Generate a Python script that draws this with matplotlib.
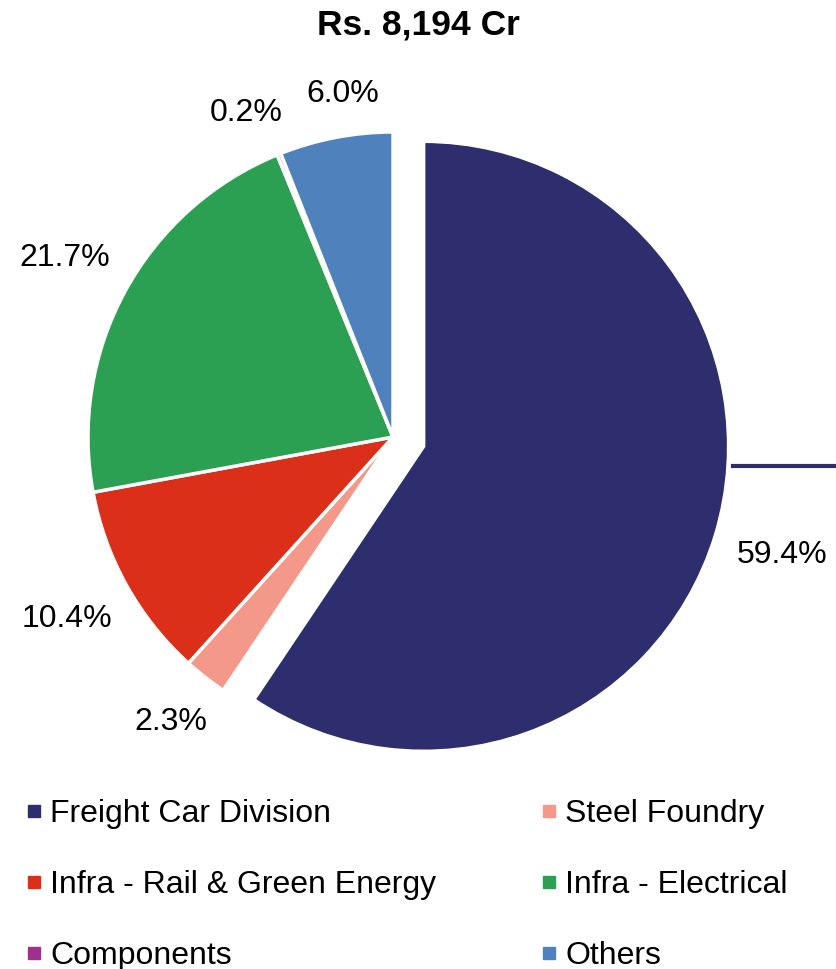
import numpy as np
import matplotlib
matplotlib.use("Agg")
import matplotlib.pyplot as plt
from matplotlib.lines import Line2D

plt.rcParams['font.family'] = ['Liberation Sans', 'DejaVu Sans']

# data
segments = ["Freight Car Division", "Steel Foundry", "Infra - Rail & Green Energy",
            "Infra - Electrical", "Components", "Others"]
shares = [59.4, 2.3, 10.4, 21.7, 0.2, 6.0]
colors = ["#2E2D6E", "#F4998A", "#DC2F19", "#2CA052", "#A0308F", "#4F81BD"]
explode_frac = [0.105, 0, 0, 0, 0, 0]
title = "Rs. 8,194 Cr"

W, H = 836, 969
fig = plt.figure(figsize=(W / 100, H / 100), dpi=100)
ax = fig.add_axes([0, 0, 1, 1])

cx, cy, R = 393, H - 437, 305

wedges, _, autotexts = ax.pie(
    shares, colors=colors, explode=[e * R for e in explode_frac],
    startangle=90, counterclock=False, center=(cx, cy), radius=R,
    autopct=lambda p: f"{p:.1f}%", pctdistance=1.2,
    wedgeprops=dict(edgecolor='white', linewidth=2.5), frame=True,
)
ax.set_xlim(0, W)
ax.set_ylim(0, H)
ax.axis('off')

# place labels just outside the rim ("outside end"), spreading overlapping ones
for t in autotexts:
    t.set_fontsize(23)
    t.set_color('black')
fig.canvas.draw()
renderer = fig.canvas.get_renderer()
gap = 22
sizes = [(t.get_window_extent(renderer).width, t.get_window_extent(renderer).height)
         for t in autotexts]
angles = [(w.theta1 + w.theta2) / 2 for w in wedges]


def label_pos(i):
    ang = np.deg2rad(angles[i])
    w, h = sizes[i]
    r = R + gap + abs(np.cos(ang)) * w / 2 + abs(np.sin(ang)) * h / 2
    wx, wy = wedges[i].center
    return wx + r * np.cos(ang), wy + r * np.sin(ang)


def overlap(i, j, pad=24):
    (xi, yi), (xj, yj) = label_pos(i), label_pos(j)
    return (abs(xi - xj) < (sizes[i][0] + sizes[j][0]) / 2 + pad and
            abs(yi - yj) < (sizes[i][1] + sizes[j][1]) / 2 + pad)


n = len(wedges)
for _ in range(200):
    moved = False
    for i in range(n):
        j = (i + 1) % n
        if overlap(i, j):
            # wedges run clockwise, so i sits at a larger angle than j
            angles[i] += 0.5
            angles[j] -= 0.5
            moved = True
    if not moved:
        break

for i, t in enumerate(autotexts):
    t.set_position(label_pos(i))

# leader line for the freight car label
fig.add_artist(Line2D([733 / W, 1.0], [1 - 466 / H, 1 - 466 / H],
                      color=colors[0], linewidth=3))

fig.text(0.5, 1 - 25 / H, title, ha='center', va='center',
         fontsize=25.5, fontweight='bold')

# legend: two columns, filled row by row
order = [0, 2, 4, 1, 3, 5]
handles = [Line2D([], [], marker='s', linestyle='none', markersize=9,
                  color=colors[i]) for i in order]
labels = [segments[i] for i in order]
fig.legend(handles, labels, ncol=2, loc='upper left',
           bbox_to_anchor=(10 / W, 1 - 783 / H), frameon=False, fontsize=23,
           handlelength=0.5, handletextpad=0.25, labelspacing=1.28,
           columnspacing=3.3, borderpad=0)

fig.savefig("out.png", dpi=100)
